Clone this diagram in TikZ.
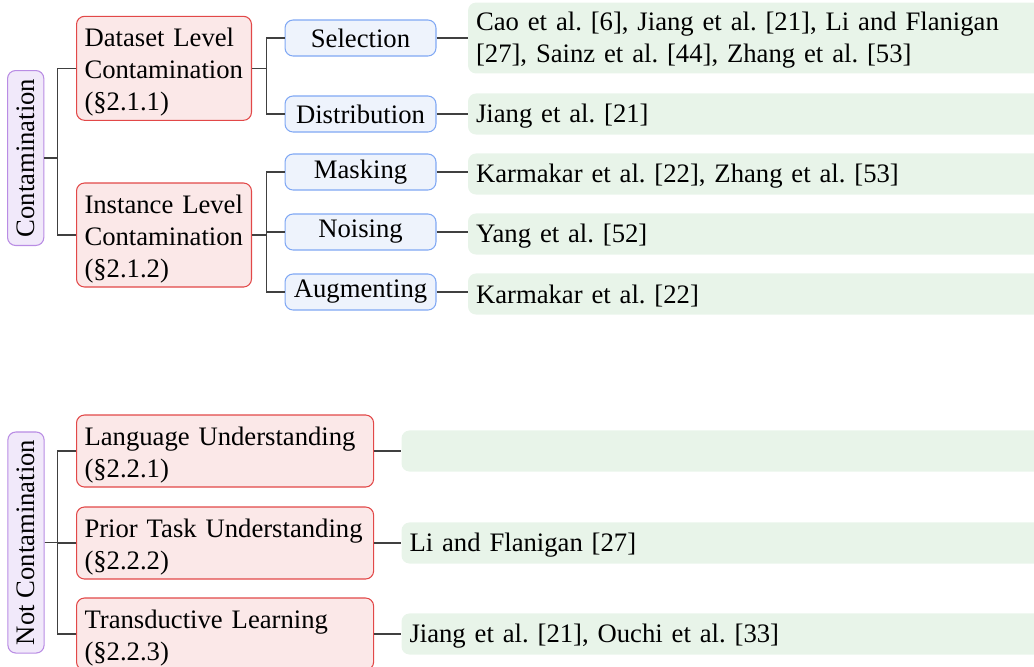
\documentclass[tikz,border=0pt]{standalone}
\usepackage{fontspec}
\setmainfont{Liberation Serif}
\frenchspacing
\definecolor{topicfill}{RGB}{241,233,250}
\definecolor{topicline}{RGB}{185,140,228}
\definecolor{secfill}{RGB}{251,232,232}
\definecolor{secline}{RGB}{226,72,72}
\definecolor{methfill}{RGB}{238,243,252}
\definecolor{methline}{RGB}{128,168,244}
\definecolor{reffill}{RGB}{232,244,233}
\tikzset{
        topic/.style={draw=topicline, fill=topicfill, rounded corners=3pt, line width=0.4pt, minimum width=13.6pt, minimum height=#1, inner sep=0pt},
        section/.style={draw=secline, fill=secfill, rounded corners=3pt, line width=0.4pt, anchor=west, align=left, text width=#1, inner xsep=3pt, inner ysep=1pt, execute at begin node={\rule{0pt}{10pt}}},
        method/.style={draw=methline, fill=methfill, rounded corners=3pt, line width=0.4pt, anchor=west, minimum width=56.6pt, minimum height=13.5pt, inner sep=0pt},
        refs/.style={fill=reffill, rounded corners=3pt, anchor=west, align=left, text width=240pt, minimum height=15.4pt, inner xsep=3pt, inner ysep=1pt, execute at begin node={\rule{0pt}{8.5pt}}},
        fork/.style={draw=black!75, line width=0.55pt}
          }

\begin{document}
\begin{tikzpicture}[x=0.375pt, y=-0.375pt]
        \useasboundingbox (0,0) rectangle (1034,666);
        \clip (0,0) rectangle (1034,666);

        \node[topic=65.6pt] (c) at (25.7,158) {\rotatebox{90}{Contamination}};
        \node[section=59.6pt, minimum height=39pt] (dl) at (76,68.3) {Dataset Level\\Contamination\\(§2.1.1)};
        \node[section=59.6pt, minimum height=39pt] (il) at (76,235) {Instance Level\\Contamination\\(§2.1.2)};
        \node[method] (sel) at (284.5,38) {Selection};
        \node[method] (dis) at (284.5,114) {Distribution};
        \node[method] (mas) at (284.5,172) {Masking};
        \node[method] (noi) at (284.5,232) {Noising};
        \node[method] (aug) at (284.5,292) {Augmenting};
        \node[refs, minimum height=26.6pt] (rsel) at (467.5,38) {Cao et al. [6], Jiang et al. [21], Li and Flanigan\\{}[27], Sainz et al. [44], Zhang et al. [53]};
        \node[refs] (rdis) at (467.5,114) {Jiang et al. [21]};
        \node[refs] (rmas) at (467.5,174) {Karmakar et al. [22], Zhang et al. [53]};
        \node[refs] (rnoi) at (467.5,234) {Yang et al. [52]};
        \node[refs] (raug) at (467.5,294) {Karmakar et al. [22]};

        \node[topic=82.9pt] (n) at (26,542.5) {\rotatebox{90}{Not Contamination}};
        \node[section=105.4pt, minimum height=27pt] (lu) at (76,451) {Language Understanding\\(§2.2.1)};
        \node[section=105.4pt, minimum height=27pt] (pt) at (76,543) {Prior Task Understanding\\(§2.2.2)};
        \node[section=105.4pt, minimum height=27pt] (tl) at (76,634) {Transductive Learning\\(§2.2.3)};
        \node[refs] (rlu) at (401,451) {};
        \node[refs] (rpt) at (401,543) {Li and Flanigan [27]};
        \node[refs] (rtl) at (401,634) {Jiang et al. [21], Ouchi et al. [33]};

        \foreach \s in {dl,il}
          \draw[fork] (c.east) -- (57.5,158) |- (\s.west);
        \foreach \m in {sel,dis}
          \draw[fork] (dl.east) -- (266.7,68.3) |- (\m.west);
        \foreach \m in {mas,noi,aug}
          \draw[fork] (il.east) -- (266.7,235) |- (\m.west);
        \foreach \m in {sel,dis,mas,noi,aug}
          \draw[fork] (\m.east) -- (r\m.west |- \m.east);
        \foreach \s in {lu,pt,tl}
          \draw[fork] (n.east) -- (57.5,542.5) |- (\s.west);
        \foreach \s in {lu,pt,tl}
          \draw[fork] (\s.east) -- (r\s.west);
\end{tikzpicture}
\end{document}
